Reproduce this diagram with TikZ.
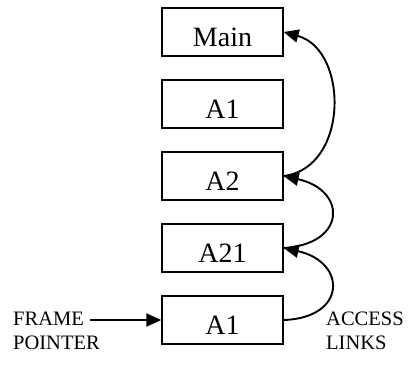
\documentclass[tikz,border=0pt]{standalone}
\usepackage{fontspec}
\setmainfont{Liberation Serif}
\usetikzlibrary{arrows.meta}
\tikzset{
  frame/.style={draw, line width=1.3pt, minimum width=121pt, minimum height=48pt, inner sep=0pt},
  boxtext/.style={anchor=base, font=\fontsize{28}{32}\selectfont, inner sep=0pt},
  link/.style={line width=1.9pt, -{Triangle[length=15pt,width=13pt]}},
  lbl/.style={anchor=base west, align=left, inner sep=0pt, font=\fontsize{20.5}{23.4}\selectfont}
}
\begin{document}
\begin{tikzpicture}[x=1pt,y=-1pt]
\useasboundingbox (0,0) rectangle (408,378);
% boxes
\node[frame] (main) at (222.5,32) {};
\node[frame] (a1top) at (222.5,104) {};
\node[frame] (a2) at (222.5,176) {};
\node[frame] (a21) at (222.5,248) {};
\node[frame] (a1) at (222.5,320) {};
\node[boxtext] (tmain) at (222.5,46) {Main};
\node[boxtext] (ta1top) at (222.5,118) {A1};
\node[boxtext] (ta2) at (222.5,190) {A2};
\node[boxtext] (ta21) at (222.5,262) {A21};
\node[boxtext] (ta1) at (222.5,334) {A1};
% access links
\draw[link] (a1.east) .. controls (347,318) and (347,262) .. (a21.east);
\draw[link] (a21.east) .. controls (347,244) and (347,190) .. (a2.east);
\draw[link] (a2.east) .. controls (349,168) and (349,50) .. (main.east);
% frame pointer
\coordinate (fp) at (90,320);
\draw[link] (fp) -- (a1.west);
% labels
\node[lbl] (framelbl) at (13,349.3) {FRAME\\POINTER};
\node[lbl] (accesslbl) at (326,349.3) {ACCESS\\LINKS};
\end{tikzpicture}
\end{document}
